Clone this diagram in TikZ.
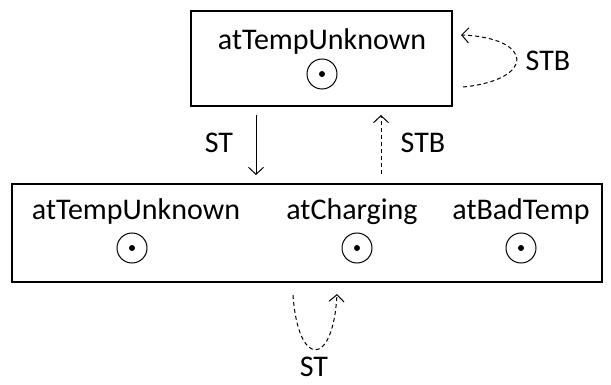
\documentclass[tikz,border=0pt]{standalone}
\usepackage{fontspec}
\setmainfont{Carlito}
\usetikzlibrary{arrows.meta}

\begin{document}
\begin{tikzpicture}[x=1pt,y=-1pt,
  >={Straight Barb[length=7pt,width=15pt]},
  every node/.style={font=\fontsize{30}{36}\selectfont, inner sep=2pt},
  box/.style={draw, line width=1.6pt, inner sep=0pt},
  state/.style={draw, circle, line width=1pt, minimum size=30pt, inner sep=0pt},
  trans/.style={->, line width=1pt},
  sbtrans/.style={->, line width=1pt, dash pattern=on 4pt off 3pt}]
\useasboundingbox (0,0) rectangle (611,385);
% the two superstates
\node[box, minimum width=261pt, minimum height=95pt] (upper) at (321.5,58.5) {};
\node[box, minimum width=590pt, minimum height=98pt] (lower) at (307,233) {};
\node[anchor=base] (uUnknown) at (322,50) {atTempUnknown};
\node[state] (uUnknownSt) at (322,74) {};
\fill (uUnknownSt) circle (3pt);
\foreach \nm/\sx/\tx/\tit in {Unknown/132/136/atTempUnknown, Charging/357/352/atCharging, BadTemp/521/521/atBadTemp}{
  \node[anchor=base] (l\nm) at (\tx,219) {\tit};
  \node[state] (l\nm St) at (\sx,248) {};
  \fill (l\nm St) circle (3pt);}
% transitions between the boxes
\node (stLbl) at (219,143) {ST};
\node (stbLbl) at (423,143) {STB};
\coordinate (stFrom) at (256,115);
\coordinate (stTo) at (256,175);
\coordinate (stbFrom) at (381,174);
\coordinate (stbTo) at (381,115);
\draw[trans] (stFrom) -- (stTo);
\draw[sbtrans] (stbFrom) -- (stbTo);
% self loops
\node (loopLbl) at (548,61) {STB};
\coordinate (loopFrom) at (463,87);
\coordinate (loopTo) at (461,35);
\draw[sbtrans] (loopFrom) .. controls (535,80) and (535,38) .. (loopTo);
\node[inner sep=0pt] (cLoopLbl) at (314,367) {ST};
\coordinate (cLoopFrom) at (293,295);
\coordinate (cLoopTo) at (337,294);
\draw[sbtrans] (cLoopFrom) .. controls (298,368) and (333,368) .. (cLoopTo);
\end{tikzpicture}
\end{document}
